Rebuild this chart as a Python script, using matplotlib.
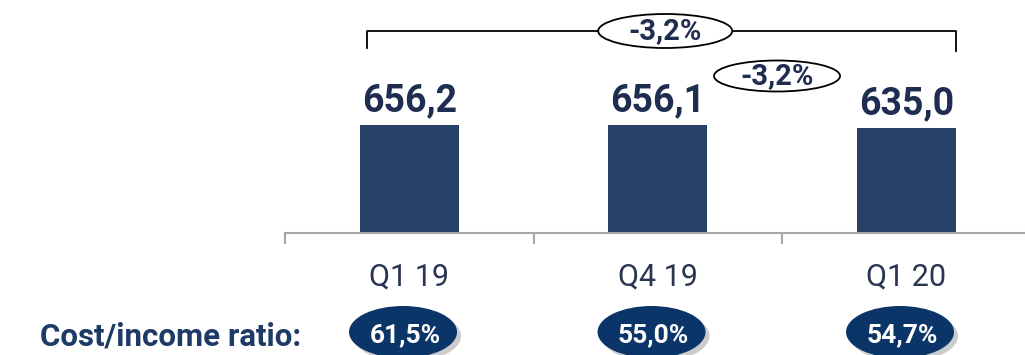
import matplotlib
matplotlib.use("Agg")
import matplotlib.pyplot as plt
from matplotlib.patches import Ellipse

# quarterly values
quarters = ["Q1 19", "Q4 19", "Q1 20"]
values = [656.2, 656.1, 635.0]
cost_income = ["61,5%", "55,0%", "54,7%"]
chg_yoy = "-3,2%"
chg_qoq = "-3,2%"

BAR = "#264066"
NAVY = "#1f2d50"
OVAL = "#0b3468"
AXIS = "#a6a6a6"
FONT = "Roboto"

W, H = 1025, 355
PX_X = 248.5          # pixels per category
PX_Y = 0.1646         # pixels per unit
X0 = -0.5 - 285 / PX_X
Y0 = -122 / PX_Y

def dx(px): return px / PX_X
def dy(px): return px / PX_Y

fig = plt.figure(figsize=(W / 100, H / 100), dpi=100)
ax = fig.add_axes([0, 0, 1, 1])
ax.set_xlim(X0, X0 + W / PX_X)
ax.set_ylim(Y0, Y0 + H / PX_Y)
ax.axis("off")

xs = list(range(len(quarters)))
ax.bar(xs, values, width=0.4, color=BAR, zorder=2)

# category axis with tick marks between categories
ax.plot([-0.5, X0 + W / PX_X], [0, 0], color=AXIS, lw=1.5, zorder=3)
for t in [-0.5, 0.5, 1.5]:
    ax.plot([t, t], [0, -dy(10)], color=AXIS, lw=1.5)

for x, v, q in zip(xs, values, quarters):
    ax.text(x, v + dy(6), f"{v:.1f}".replace(".", ","), ha="center", va="bottom",
            fontsize=27, fontweight="bold", color=NAVY, family=FONT)
    ax.text(x, -dy(44), q, ha="center", va="center", fontsize=22,
            fontweight="normal", color="#2a3552", family=FONT)

# bracket Q1 19 -> Q1 20
yb = dy(202)
xl, xr = xs[0] - 0.17, xs[2] + 0.2
ax.plot([xl, xl, xr, xr], [yb - dy(17), yb, yb, yb - dy(20)], color="black", lw=1.3)
for cx, cy, w, h, s in [(1.03, yb, 134, 34, chg_yoy),
                        (1.48, dy(157), 126, 31, chg_qoq)]:
    ax.add_patch(Ellipse((cx, cy), dx(w), dy(h), facecolor="white",
                         edgecolor="black", lw=1.3, zorder=4))
    ax.text(cx, cy, s, ha="center", va="center", fontsize=21, fontweight="bold",
            color=NAVY, family=FONT, zorder=5)

# cost/income ratio row
yo = -dy(99)
fig.text(40 / W, 1 - 336 / H, "Cost/income ratio:", ha="left", va="center",
         fontsize=22.5, fontweight="bold", color="#1e3a66", family=FONT)
for x, s in zip(xs, cost_income):
    cx = x - 0.025
    ax.add_patch(Ellipse((cx + dx(4), yo - dy(4)), dx(108), dy(52),
                         facecolor="#9a9a9a", alpha=0.5, lw=0, zorder=3))
    ax.add_patch(Ellipse((cx, yo), dx(108), dy(52), facecolor=OVAL, lw=0, zorder=4))
    ax.text(cx + dx(2), yo - dy(3), s, ha="center", va="center", fontsize=19,
            fontweight="bold", color="white", family=FONT, zorder=5)

fig.savefig("out.png", dpi=100)
